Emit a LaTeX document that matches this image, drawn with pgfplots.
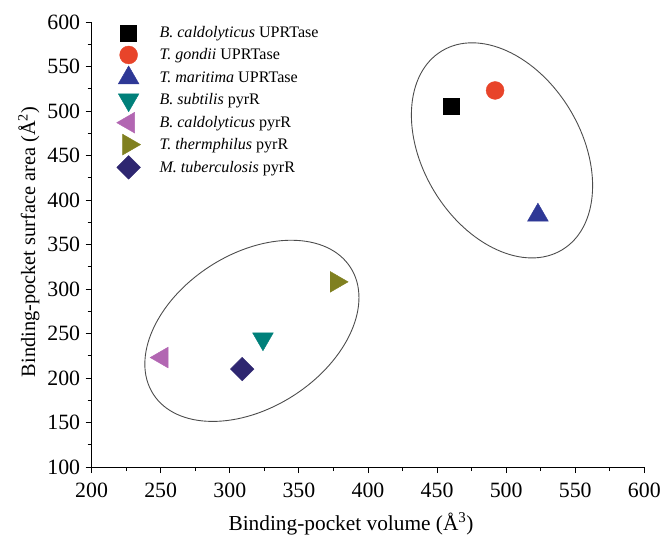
\documentclass[border=0pt]{standalone}
\usepackage{pgfplots}
\pgfplotsset{compat=1.18}
\usepackage{fontspec}
\setmainfont{Liberation Serif}
\definecolor{cRed}{RGB}{232,68,42}
\definecolor{cBlue}{RGB}{46,56,150}
\definecolor{cTeal}{RGB}{0,128,122}
\definecolor{cOrchid}{RGB}{178,102,178}
\definecolor{cOlive}{RGB}{128,128,32}
\definecolor{cNavy}{RGB}{46,38,112}
\begin{document}
\begin{tikzpicture}
\begin{axis}[
  name=ax,
  scale only axis, width=555bp, height=447bp,
  xmin=200, xmax=600, ymin=100, ymax=600,
  axis x line*=bottom, axis y line*=left,
  axis line style={-, line width=0.8pt},
  xtick={200,250,...,600}, ytick={100,150,...,600},
  minor x tick num=1, minor y tick num=1,
  tick align=outside,
  major tick length=6bp, minor tick length=4bp,
  tick style={black, line width=0.8pt},
  /pgf/number format/assume math mode=true,
  ticklabel style={font=\fontsize{22}{22}\selectfont},
  yticklabel style={xshift=-2bp},
  xticklabel style={yshift=-6bp},
  every axis x label/.style={at={(rel axis cs:0.5,0)}, anchor=center, xshift=-17bp, yshift=-57bp, inner sep=0pt, font=\fontsize{21.5}{21.5}\selectfont},
  every axis y label/.style={at={(rel axis cs:0,0.5)}, anchor=center, rotate=90, yshift=63bp, xshift=2.5bp, inner sep=0pt, font=\fontsize{20.5}{20.5}\selectfont},
  xlabel={Binding-pocket volume (Å\textsuperscript{3})},
  ylabel={Binding-pocket surface area (Å\textsuperscript{2})},
  legend style={at={(0.036,1)}, anchor=north west, draw=none, fill=none,
    font=\fontsize{16.2}{16.2}\selectfont, row sep=0bp, inner sep=0bp},
  legend cell align=left,
  legend image code/.code={\path[draw=none,fill=none] (0bp,-11bp) rectangle (46bp,11bp);
    \draw[#1] plot coordinates {(17bp,0bp)};},
]
\addplot[only marks, mark=square*, mark size=8bp, color=black] coordinates {(460,505)};
\addlegendentry{\textit{B. caldolyticus} UPRTase}
\addplot[only marks, mark=*, mark size=9bp, color=cRed] coordinates {(492,523)};
\addlegendentry{\textit{T. gondii} UPRTase}
\addplot[only marks, mark=triangle*, mark size=12bp, color=cBlue] coordinates {(523,383)};
\addlegendentry{\textit{T. maritima} UPRTase}
\addplot[only marks, mark=triangle*, mark size=12bp, mark options={rotate=180}, color=cTeal] coordinates {(324,244)};
\addlegendentry{\textit{B. subtilis} pyrR}
\addplot[only marks, mark=triangle*, mark size=12bp, mark options={rotate=90}, color=cOrchid] coordinates {(251,223)};
\addlegendentry{\textit{B. caldolyticus} pyrR}
\addplot[only marks, mark=triangle*, mark size=12bp, mark options={rotate=-90}, color=cOlive] coordinates {(377,308)};
\addlegendentry{\textit{T. thermphilus} pyrR}
\addplot[only marks, mark=square*, mark size=8.4bp, mark options={rotate=45}, color=cNavy] coordinates {(309,210)};
\addlegendentry{\textit{M. tuberculosis} pyrR}
\draw[line width=0.9pt, black!70] (axis cs:497,455.7) circle[x radius=116.7bp, y radius=79.5bp, rotate=121.2];
\draw[line width=0.9pt, black!70] (axis cs:316,253) circle[x radius=117.7bp, y radius=77.3bp, rotate=32.7];
\end{axis}
\path (ax.west) ++(-92bp,0);
\path (ax.north) ++(0,22bp);
\path (ax.south) ++(0,-66bp);
\end{tikzpicture}
\end{document}
